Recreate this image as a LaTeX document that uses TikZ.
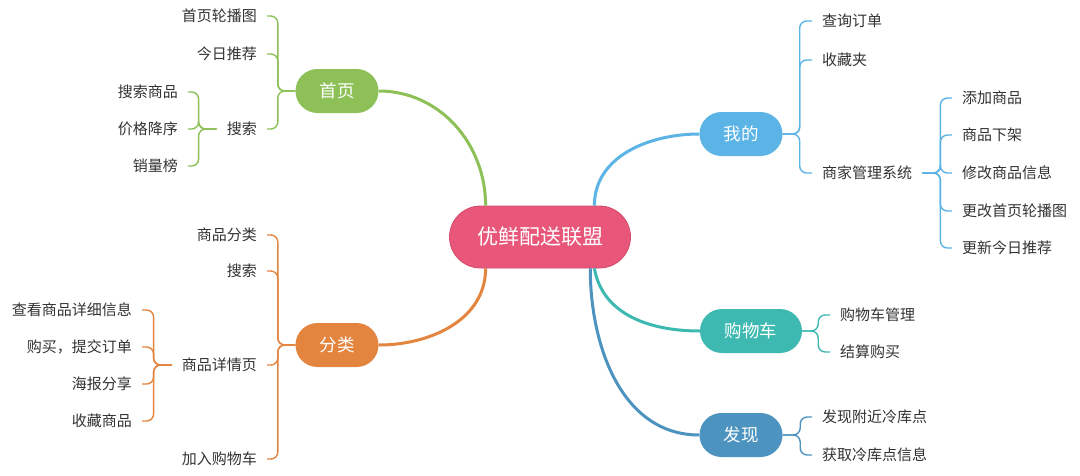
\documentclass[tikz,border=0pt]{standalone}
\usepackage{fontspec}
\newfontfamily\cjk{Noto Sans CJK SC}
\usepackage{tikz}
\usetikzlibrary{positioning}
\usepackage{xcolor}
\definecolor{mappink}{HTML}{E8577A}
\definecolor{mappinkdark}{HTML}{D24A6C}
\definecolor{mapgreen}{HTML}{8DC157}
\definecolor{maporange}{HTML}{E3843F}
\definecolor{mapblue}{HTML}{5BB4E5}
\definecolor{mapteal}{HTML}{3DB9B1}
\definecolor{mapsteel}{HTML}{4C94BF}
\definecolor{maptext}{HTML}{333333}

\tikzset{
  topic/.style={rectangle, rounded corners=22pt, minimum width=83pt, minimum height=44pt,
    inner sep=0pt, text=white, font=\cjk\fontsize{17.5}{20}\selectfont},
  leafl/.style={anchor=east, inner xsep=10pt, inner ysep=0pt, text=maptext,
    font=\cjk\fontsize{15}{18}\selectfont},
  leafr/.style={anchor=west, inner xsep=10pt, inner ysep=0pt, text=maptext,
    font=\cjk\fontsize{15}{18}\selectfont},
  twig/.style={line width=1.4pt, rounded corners=7pt},
  trunk/.style={line width=3pt},
}

\begin{document}
\begin{tikzpicture}[x=1pt, y=-1pt]
  \useasboundingbox[fill=white] (0,0) rectangle (1080,475);

  % centre and main topics
  \node[rectangle, rounded corners=31pt, minimum width=181pt, minimum height=62pt,
    fill=mappink, draw=mappinkdark, line width=0.8pt, text=white,
    font=\cjk\fontsize{21}{24}\selectfont] (root) at (540,237) {优鲜配送联盟};
  \node[topic, fill=mapgreen] (hp) at (337,91) {首页};
  \node[topic, fill=maporange] (fl) at (337,345) {分类};
  \node[topic, fill=mapblue] (wd) at (741,134) {我的};
  \node[topic, fill=mapteal, minimum width=102pt] (gw) at (751,331) {购物车};
  \node[topic, fill=mapsteel] (fx) at (741,435) {发现};

  \draw[trunk, mapgreen] (root.150) to[out=90, in=0] (hp.east);
  \draw[trunk, maporange] (root.210) to[out=-90, in=0] (fl.east);
  \draw[trunk, mapblue] (root.30) to[out=90, in=180] (wd.west);
  \draw[trunk, mapteal] (root.-30) to[out=-80, in=180] (gw.west);
  \draw[trunk, mapsteel] (root.-32) to[out=-90, in=180] (fx.west);

  % 首页
  \node[leafl] (hp1) at (267,16) {首页轮播图};
  \node[leafl] (hp2) at (267,54) {今日推荐};
  \node[leafl] (hp3) at (267,129) {搜索};
  \node[leafl] (hp31) at (188,92) {搜索商品};
  \node[leafl] (hp32) at (188,129) {价格降序};
  \node[leafl] (hp33) at (188,166) {销量榜};
  \foreach \n in {hp1,hp2,hp3}
    \draw[twig, mapgreen] (hp.west) -- ++(-17.5,0) |- (\n.east);
  \foreach \n in {hp31,hp32,hp33}
    \draw[twig, mapgreen] (hp3.west) -- ++(-18,0) |- (\n.east);

  % 分类
  \node[leafl] (fl1) at (267,235) {商品分类};
  \node[leafl] (fl2) at (267,271) {搜索};
  \node[leafl] (fl3) at (267,365) {商品详情页};
  \node[leafl] (fl4) at (267,459) {加入购物车};
  \node[leafl] (fl31) at (142,310) {查看商品详细信息};
  \node[leafl] (fl32) at (142,347) {购买，提交订单};
  \node[leafl] (fl33) at (142,384) {海报分享};
  \node[leafl] (fl34) at (142,421) {收藏商品};
  \foreach \n in {fl1,fl2,fl3,fl4}
    \draw[twig, maporange] (fl.west) -- ++(-17.5,0) |- (\n.east);
  \foreach \n in {fl31,fl32,fl33,fl34}
    \draw[twig, maporange] (fl3.west) -- ++(-18,0) |- (\n.east);

  % 我的
  \node[leafr] (wd1) at (812,21) {查询订单};
  \node[leafr] (wd2) at (812,60) {收藏夹};
  \node[leafr] (wd3) at (812,173) {商家管理系统};
  \node[leafr] (wd31) at (952,98) {添加商品};
  \node[leafr] (wd32) at (952,135) {商品下架};
  \node[leafr] (wd33) at (952,173) {修改商品信息};
  \node[leafr] (wd34) at (952,211) {更改首页轮播图};
  \node[leafr] (wd35) at (952,248) {更新今日推荐};
  \foreach \n in {wd1,wd2,wd3}
    \draw[twig, mapblue] (wd.east) -- ++(17,0) |- (\n.west);
  \foreach \n in {wd31,wd32,wd33,wd34,wd35}
    \draw[twig, mapblue] (wd3.east) -- ++(18,0) |- (\n.west);

  % 购物车
  \node[leafr] (gw1) at (830,315) {购物车管理};
  \node[leafr] (gw2) at (830,352) {结算购买};
  \foreach \n in {gw1,gw2}
    \draw[twig, mapteal] (gw.east) -- ++(16,0) |- (\n.west);

  % 发现
  \node[leafr] (fx1) at (812,417) {发现附近冷库点};
  \node[leafr] (fx2) at (812,455) {获取冷库点信息};
  \foreach \n in {fx1,fx2}
    \draw[twig, mapsteel] (fx.east) -- ++(17.5,0) |- (\n.west);
\end{tikzpicture}
\end{document}
